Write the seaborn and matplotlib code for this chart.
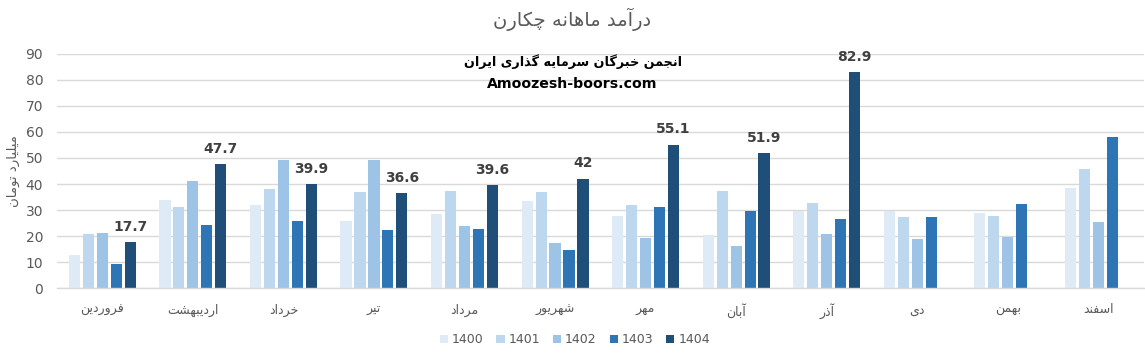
import numpy as np
import pandas as pd
import matplotlib
matplotlib.use("Agg")
import matplotlib.pyplot as plt
import seaborn as sns

# ---------------- data ----------------
months = ["فروردین", "اردیبهشت", "خرداد", "تیر", "مرداد", "شهریور",
          "مهر", "آبان", "آذر", "دی", "بهمن", "اسفند"]
years = ["1400", "1401", "1402", "1403", "1404"]
v1400 = [12.8, 34.0, 32.1, 25.9, 28.6, 33.6, 27.8, 20.5, 29.7, 29.7, 29.0, 38.6]
v1401 = [20.9, 31.3, 38.2, 37.1, 37.4, 37.1, 32.1, 37.4, 32.8, 27.4, 27.8, 45.9]
v1402 = [21.3, 41.3, 49.4, 49.4, 24.0, 17.4, 19.4, 16.3, 20.9, 19.0, 19.7, 25.5]
v1403 = [9.4, 24.4, 25.9, 22.4, 22.8, 14.7, 31.3, 29.7, 26.7, 27.4, 32.4, 58.2]
v1404 = [17.7, 47.7, 39.9, 36.6, 39.6, 42, 55.1, 51.9, 82.9, np.nan, np.nan, np.nan]
title = "درآمد ماهانه چکارن"
ylabel = "میلیارد تومان"
wm1 = "انجمن خبرگان سرمایه گذاری ایران"
wm2 = "Amoozesh-boors.com"

colors = ["#DEEBF7", "#BDD7EE", "#9DC3E6", "#2E75B6", "#1F4E79"]

# ---------------- minimal Persian shaping ----------------
FORMS = {
    '\u0627': ('\uFE8D', '\uFE8E', None, None),
    '\u0622': ('\uFE81', '\uFE82', None, None),
    '\u0628': ('\uFE8F', '\uFE90', '\uFE91', '\uFE92'),
    '\u067E': ('\uFB56', '\uFB57', '\uFB58', '\uFB59'),
    '\u062A': ('\uFE95', '\uFE96', '\uFE97', '\uFE98'),
    '\u062B': ('\uFE99', '\uFE9A', '\uFE9B', '\uFE9C'),
    '\u062C': ('\uFE9D', '\uFE9E', '\uFE9F', '\uFEA0'),
    '\u0686': ('\uFB7A', '\uFB7B', '\uFB7C', '\uFB7D'),
    '\u062D': ('\uFEA1', '\uFEA2', '\uFEA3', '\uFEA4'),
    '\u062E': ('\uFEA5', '\uFEA6', '\uFEA7', '\uFEA8'),
    '\u062F': ('\uFEA9', '\uFEAA', None, None),
    '\u0630': ('\uFEAB', '\uFEAC', None, None),
    '\u0631': ('\uFEAD', '\uFEAE', None, None),
    '\u0632': ('\uFEAF', '\uFEB0', None, None),
    '\u0698': ('\uFB8A', '\uFB8B', None, None),
    '\u0633': ('\uFEB1', '\uFEB2', '\uFEB3', '\uFEB4'),
    '\u0634': ('\uFEB5', '\uFEB6', '\uFEB7', '\uFEB8'),
    '\u0641': ('\uFED1', '\uFED2', '\uFED3', '\uFED4'),
    '\u0642': ('\uFED5', '\uFED6', '\uFED7', '\uFED8'),
    '\u06A9': ('\uFB8E', '\uFB8F', '\uFB90', '\uFB91'),
    '\u06AF': ('\uFB92', '\uFB93', '\uFB94', '\uFB95'),
    '\u0644': ('\uFEDD', '\uFEDE', '\uFEDF', '\uFEE0'),
    '\u0645': ('\uFEE1', '\uFEE2', '\uFEE3', '\uFEE4'),
    '\u0646': ('\uFEE5', '\uFEE6', '\uFEE7', '\uFEE8'),
    '\u0647': ('\uFEE9', '\uFEEA', '\uFEEB', '\uFEEC'),
    '\u0648': ('\uFEED', '\uFEEE', None, None),
    '\u06CC': ('\uFBFC', '\uFBFD', '\uFBFE', '\uFBFF'),
}


def shape(text):
    chars = list(text)
    n = len(chars)
    out = []
    for i, c in enumerate(chars):
        if c not in FORMS:
            out.append(c)
            continue
        prev = chars[i - 1] if i > 0 else None
        nxt = chars[i + 1] if i < n - 1 else None
        cp = prev in FORMS and FORMS[prev][2] is not None
        cn = nxt in FORMS and FORMS[c][2] is not None
        iso, fin, ini, med = FORMS[c]
        if cp and cn:
            out.append(med)
        elif cp:
            out.append(fin)
        elif cn:
            out.append(ini)
        else:
            out.append(iso)
    return "".join(reversed(out))


# ---------------- build frame ----------------
rows = []
for yr, vals in zip(years, [v1400, v1401, v1402, v1403, v1404]):
    for m, v in zip(months, vals):
        rows.append({"month": m, "year": yr, "value": v})
df = pd.DataFrame(rows)

sns.set_theme(style="white")
plt.rcParams["font.family"] = ["DejaVu Sans"]

fig = plt.figure(figsize=(11.45, 3.57), dpi=100)
ax = fig.add_axes([0.0498, 0.193, 0.949, 0.656])

sns.barplot(data=df, x="month", y="value", hue="year", order=months,
            hue_order=years, palette=colors, width=0.77, gap=0.2,
            saturation=1, ax=ax, legend=True, errorbar=None, linewidth=0)

ax.set_ylim(0, 90)
ax.set_yticks(range(0, 91, 10))
ax.set_xlim(-0.5, 11.5)
ax.yaxis.grid(True, color="#D9D9D9", linewidth=1)
ax.set_axisbelow(True)
for s in ["top", "right", "left"]:
    ax.spines[s].set_visible(False)
ax.spines["bottom"].set_color("#D9D9D9")
ax.spines["bottom"].set_linewidth(1)
ax.tick_params(axis="y", length=0, pad=10, labelsize=10, labelcolor="#595959")
ax.tick_params(axis="x", length=0, pad=11, labelsize=9, labelcolor="#595959")
ax.set_xticks(range(12), labels=[shape(m) for m in months])
ax.set_xlabel("")
ax.set_ylabel(shape(ylabel), fontsize=9.5, color="#595959", labelpad=4)

# data labels on 1404 series
ax.bar_label(ax.containers[-1], fmt="{:g}", padding=6, fontsize=10,
             fontweight="bold", color="#404040")

# legend
handles, labels = ax.get_legend_handles_labels()
ax.get_legend().remove()
fig.legend(handles, labels, loc="center", bbox_to_anchor=(0.502, 0.048),
           ncol=5, frameon=False, handlelength=0.65, handleheight=0.65,
           handletextpad=0.3, columnspacing=1.05, fontsize=9,
           labelcolor="#595959")

# title and watermark
fig.text(0.5, 0.945, shape(title), ha="center", va="center", fontsize=14,
         color="#595959")
fig.text(0.5, 0.828, shape(wm1), ha="center", va="center", fontsize=9.2,
         fontweight="bold", color="black")
fig.text(0.5, 0.765, wm2, ha="center", va="center", fontsize=10.2,
         fontweight="bold", color="black")

fig.savefig("out.png", dpi=100)
